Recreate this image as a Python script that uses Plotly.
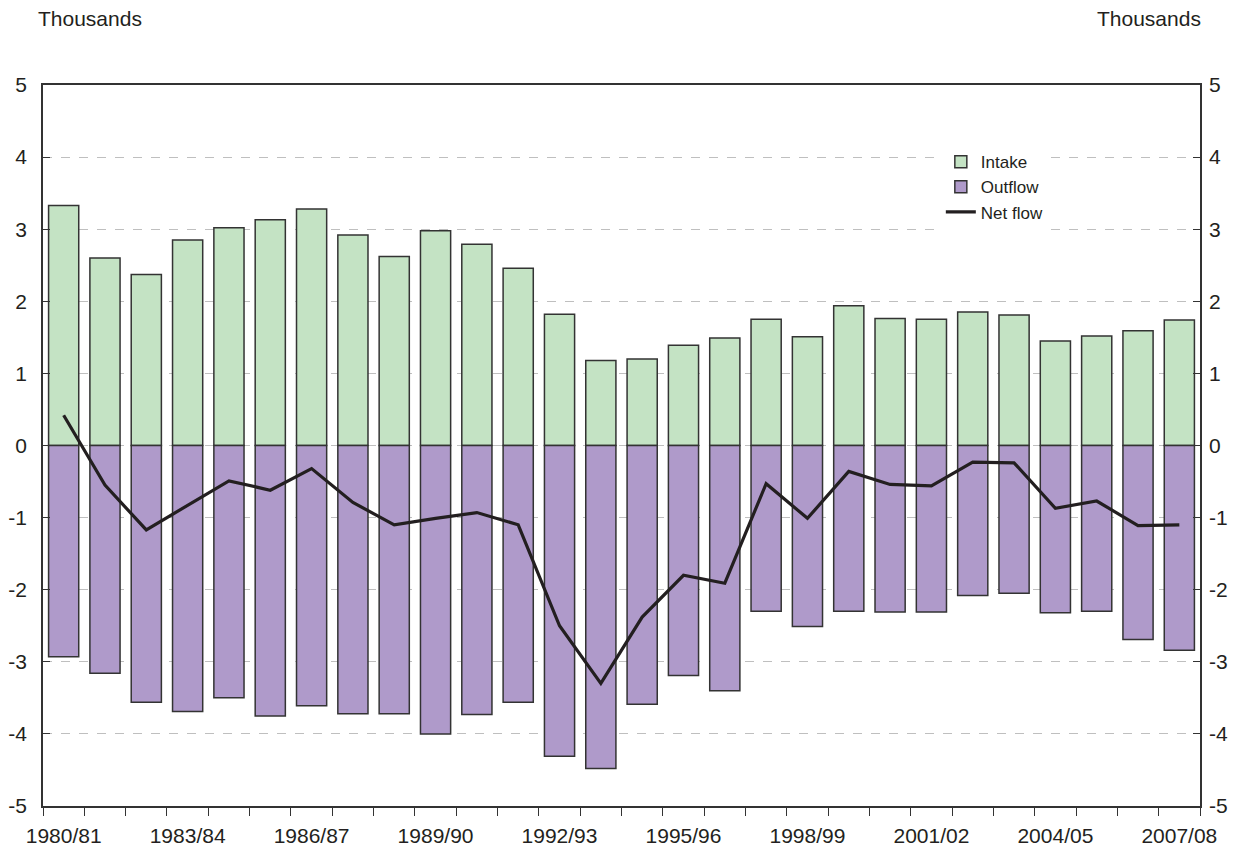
import plotly.graph_objects as go

# Financial years (x categories)
years = [
    "1980/81", "1981/82", "1982/83", "1983/84", "1984/85", "1985/86", "1986/87",
    "1987/88", "1988/89", "1989/90", "1990/91", "1991/92", "1992/93", "1993/94",
    "1994/95", "1995/96", "1996/97", "1997/98", "1998/99", "1999/00", "2000/01",
    "2001/02", "2002/03", "2003/04", "2004/05", "2005/06", "2006/07", "2007/08",
]

# Thousands
intake = [
    3.33, 2.60, 2.37, 2.85, 3.02, 3.13, 3.28, 2.92, 2.62, 2.98, 2.79, 2.46, 1.82, 1.18,
    1.20, 1.39, 1.49, 1.75, 1.51, 1.94, 1.76, 1.75, 1.85, 1.81, 1.45, 1.52, 1.59, 1.74,
]
outflow = [
    -2.93, -3.16, -3.56, -3.69, -3.50, -3.75, -3.61, -3.72, -3.72, -4.00, -3.73, -3.56, -4.31, -4.48,
    -3.59, -3.19, -3.40, -2.30, -2.51, -2.30, -2.31, -2.31, -2.08, -2.05, -2.32, -2.30, -2.69, -2.84,
]
net_flow = [
    0.42, -0.55, -1.17, -0.83, -0.49, -0.62, -0.32, -0.79, -1.10, -1.01, -0.93, -1.10, -2.50, -3.30,
    -2.38, -1.80, -1.91, -0.53, -1.01, -0.36, -0.54, -0.56, -0.23, -0.24, -0.87, -0.77, -1.11, -1.10,
]

y_ticks = [-5, -4, -3, -2, -1, 0, 1, 2, 3, 4, 5]

# only every third year is labelled
tick_text = [y if i % 3 == 0 else "" for i, y in enumerate(years)]

FONT = "Arial, Liberation Sans, sans-serif"
TXT = "#231F20"
EDGE = "#333333"
FS = 21

fig = go.Figure()

fig.add_trace(go.Bar(
    x=years, y=intake, name="Intake",
    marker=dict(color="#C4E3C4", line=dict(color=EDGE, width=1.5)),
))
fig.add_trace(go.Bar(
    x=years, y=outflow, name="Outflow",
    marker=dict(color="#AF9ACA", line=dict(color=EDGE, width=1.5)),
))
fig.add_trace(go.Scatter(
    x=years, y=net_flow, name="Net flow", mode="lines",
    line=dict(color=TXT, width=3.2), yaxis="y2",
))

yaxis_common = dict(
    range=[-5, 5], tickmode="array", tickvals=y_ticks,
    ticktext=[str(v) for v in y_ticks],   # plain hyphen, as in the original
    ticks="inside", ticklen=7, tickcolor=EDGE,
    showline=True, linecolor=EDGE, linewidth=1.5,
    zeroline=False, automargin=False,
    tickfont=dict(family=FONT, size=FS, color=TXT),
)

# the page body adds an 8px offset, so margins are trimmed on the top/left
fig.update_layout(
    width=1247, height=861,
    margin=dict(l=35, r=55, t=77, b=63),
    plot_bgcolor="white", paper_bgcolor="white",
    barmode="relative", bargap=0.27,
    font=dict(family=FONT, color=TXT),
    xaxis=dict(
        type="category", tickmode="array", tickvals=years, ticktext=tick_text,
        tickson="boundaries", ticks="outside", ticklen=8, tickcolor=EDGE,
        showline=True, linecolor=EDGE, linewidth=1.5, mirror=True,
        showgrid=False, tickangle=0, ticklabelstandoff=10, automargin=False,
        tickfont=dict(family=FONT, size=FS, color=TXT),
    ),
    yaxis=dict(
        **yaxis_common,
        showgrid=True, gridcolor="#BFBFBF", griddash="dash", gridwidth=1,
        ticklabelstandoff=10,
    ),
    yaxis2=dict(
        **yaxis_common,
        overlaying="y", side="right", showgrid=False,
        ticklabelstandoff=3,
    ),
    legend=dict(
        x=0.776, y=0.918, xanchor="left", yanchor="top",
        bgcolor="white", borderwidth=0,
        font=dict(family=FONT, size=17, color=TXT),
        tracegroupgap=0, itemwidth=30,
    ),
    showlegend=True,
)

fig.add_annotation(text="Thousands", xref="paper", yref="paper", x=-0.006, y=1.0,
                   yshift=67, xanchor="left", yanchor="middle", showarrow=False,
                   font=dict(family=FONT, size=FS, color=TXT))
fig.add_annotation(text="Thousands", xref="paper", yref="paper", x=1.0, y=1.0,
                   xshift=3, yshift=67, xanchor="right", yanchor="middle", showarrow=False,
                   font=dict(family=FONT, size=FS, color=TXT))

fig.write_html("out.html")
